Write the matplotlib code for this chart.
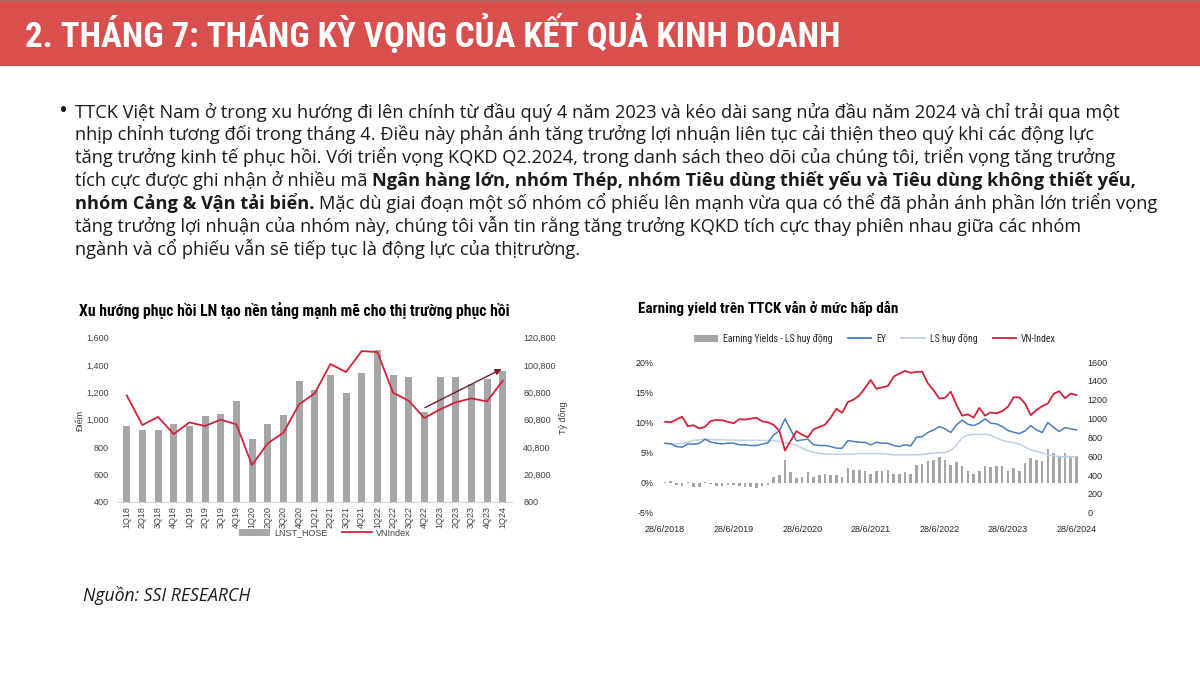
import matplotlib
matplotlib.use("Agg")
import matplotlib.pyplot as plt
from matplotlib import font_manager
from matplotlib.patches import Rectangle, Patch
from matplotlib.lines import Line2D
import numpy as np

W, H = 1200, 677

# ---- data: left chart (quarterly) ----
quarters = ["1Q18", "2Q18", "3Q18", "4Q18", "1Q19", "2Q19", "3Q19", "4Q19",
            "1Q20", "2Q20", "3Q20", "4Q20", "1Q21", "2Q21", "3Q21", "4Q21",
            "1Q22", "2Q22", "3Q22", "4Q22", "1Q23", "2Q23", "3Q23", "4Q23", "1Q24"]
lnst_hose = [56200, 53500, 53500, 57900, 56200, 63500, 65200, 74200,
             46700, 57900, 64000, 89100, 82500, 93500, 80300, 94900,
             111500, 93700, 92300, 66700, 91800, 91800, 86700, 90600, 96400]
vnindex_q = [1178, 961, 1020, 895, 980, 954, 1000, 966,
             668, 827, 905, 1112, 1193, 1407, 1349, 1502,
             1495, 1198, 1139, 1012, 1076, 1127, 1156, 1134, 1285]

# ---- data: right chart (monthly, 28/6/2018 .. 28/6/2024) ----
date_labels = ["28/6/2018", "28/6/2019", "28/6/2020", "28/6/2021",
               "28/6/2022", "28/6/2023", "28/6/2024"]
ey = [6.53, 6.42, 5.98, 5.87, 6.42, 6.37, 6.48, 7.19, 6.70, 6.53, 6.42, 6.53,
      6.53, 6.26, 6.26, 6.15, 6.15, 6.37, 6.59, 7.90, 8.57, 10.56, 8.74, 6.92,
      7.08, 7.19, 6.26, 6.15, 6.15, 5.98, 5.70, 5.70, 6.97, 6.81, 6.70, 6.65,
      6.26, 6.70, 6.53, 6.53, 6.15, 5.98, 6.26, 6.09, 7.52, 7.63, 8.30, 8.74,
      9.29, 8.91, 8.30, 9.57, 10.35, 9.68, 9.46, 9.85, 10.56, 9.85, 9.74, 9.29,
      8.63, 8.35, 8.13, 8.57, 9.46, 8.74, 8.30, 9.96, 9.13, 8.46, 9.13, 8.91, 8.74]
ls_huy_dong = [6.5, 6.45, 6.4, 6.5, 6.7, 7.0, 7.1, 7.2, 7.15, 7.1, 7.1, 7.05,
               7.05, 7.0, 7.0, 7.0, 7.0, 7.0, 6.95, 6.95, 6.8, 6.6, 6.4, 6.2,
               5.7, 5.3, 5.0, 4.85, 4.75, 4.7, 4.7, 4.7, 4.7, 4.75, 4.8, 4.8,
               4.8, 4.8, 4.8, 4.7, 4.6, 4.6, 4.6, 4.6, 4.6, 4.65, 4.8, 4.9,
               4.95, 5.0, 5.3, 6.2, 7.4, 7.9, 8.0, 8.0, 8.0, 7.85, 7.4, 7.0,
               6.75, 6.6, 6.4, 5.9, 5.4, 5.2, 4.9, 4.6, 4.45, 4.3, 4.3, 4.3, 4.3]
ey_minus_ls = [0.1, 0.2, -0.4, -0.5, 0.15, -0.8, -0.8, 0.15, -0.3, -0.5, -0.5, -0.45,
               -0.45, -0.6, -0.7, -0.8, -0.85, -0.6, -0.4, 1.0, 1.3, 3.8, 1.8, 0.7,
               1.0, 1.8, 1.0, 1.3, 1.4, 1.3, 1.2, 1.0, 2.4, 2.1, 2.1, 1.9,
               1.5, 2.0, 2.0, 2.1, 1.5, 1.4, 1.7, 1.4, 2.9, 3.0, 3.5, 3.8,
               4.3, 3.8, 2.9, 3.4, 2.8, 1.9, 1.5, 1.9, 2.7, 2.5, 2.7, 2.7,
               1.9, 2.4, 2.0, 3.2, 4.1, 3.8, 3.6, 5.5, 4.9, 4.3, 4.9, 4.3, 4.4]
vnindex_m = [966, 959, 990, 1019, 918, 929, 894, 912, 973, 985, 982, 964,
             950, 993, 989, 998, 1008, 970, 960, 933, 870, 660, 765, 866,
             828, 800, 885, 910, 935, 1010, 1105, 1060, 1175, 1200, 1245, 1325,
             1409, 1315, 1331, 1345, 1444, 1478, 1505, 1485, 1495, 1497, 1373, 1300,
             1212, 1220, 1285, 1144, 1030, 1044, 1009, 1113, 1030, 1065, 1055, 1078,
             1125, 1225, 1225, 1160, 1035, 1090, 1130, 1160, 1262, 1290, 1215, 1265, 1248]

# ---- text ----
header = "2. THÁNG 7: THÁNG KỲ VỌNG CỦA KẾT QUẢ KINH DOANH"
body_lines = [
    [("TTCK Việt Nam ở trong xu hướng đi lên chính từ đầu quý 4 năm 2023 và kéo dài sang nửa đầu năm 2024 và chỉ trải qua một", False)],
    [("nhịp chỉnh tương đối trong tháng 4. Điều này phản ánh tăng trưởng lợi nhuận liên tục cải thiện theo quý khi các động lực", False)],
    [("tăng trưởng kinh tế phục hồi. Với triển vọng KQKD Q2.2024, trong danh sách theo dõi của chúng tôi, triển vọng tăng trưởng", False)],
    [("tích cực được ghi nhận ở nhiều mã", False),
     ("Ngân hàng lớn, nhóm Thép, nhóm Tiêu dùng thiết yếu và Tiêu dùng không thiết yếu,", True)],
    [("nhóm Cảng & Vận tải biển.", True),
     ("Mặc dù giai đoạn một số nhóm cổ phiếu lên mạnh vừa qua có thể đã phản ánh phần lớn triển vọng", False)],
    [("tăng trưởng lợi nhuận của nhóm này, chúng tôi vẫn tin rằng tăng trưởng KQKD tích cực thay phiên nhau giữa các nhóm", False)],
    [("ngành và cổ phiếu vẫn sẽ tiếp tục là động lực của thịtrường.", False)],
]
title_left = "Xu hướng phục hồi LN tạo nền tảng mạnh mẽ cho thị trường phục hồi"
title_right = "Earning yield trên TTCK vẫn ở mức hấp dẫn"
source = "Nguồn: SSI RESEARCH"

# ---- fonts: pick what is installed ----
FONTS = font_manager.fontManager.ttflist


def weight_num(w):
    return w if isinstance(w, int) else font_manager.weight_dict.get(w, 400)


def has(name, stretch=None, bold=False):
    for f in FONTS:
        if f.name != name:
            continue
        if stretch is not None and f.stretch != stretch:
            continue
        if bold and weight_num(f.weight) < 600:
            continue
        return True
    return False


NARROW_STRETCH = "normal"
NARROW_NAME = "Roboto"
for name, st in [("Liberation Sans Narrow", None), ("Roboto Condensed", None),
                 ("DejaVu Sans", "condensed"), ("Roboto", "condensed")]:
    if has(name, st, bold=True):
        NARROW_NAME = name
        NARROW_STRETCH = st or "normal"
        break
NARROW = [NARROW_NAME, "DejaVu Sans"]

BODY_NAME = "DejaVu Sans"
for name in ["Noto Sans", "Open Sans", "Lato", "Roboto", "Liberation Sans"]:
    if has(name, bold=True):
        BODY_NAME = name
        break
BODY = [BODY_NAME, "DejaVu Sans"]
ARIAL = ["Liberation Sans", "DejaVu Sans"]

RED_HDR = "#d94f4e"
TXT = "#1a1a1a"
GREY_BAR = "#a6a6a6"
RED_LINE = "#d3213c"
BLUE = "#4a7ebb"
LIGHT_BLUE = "#bdd0ea"

fig = plt.figure(figsize=(W / 100, H / 100), dpi=100)
renderer = fig.canvas.get_renderer()


def fx(px):
    return px / W


def fy(py):
    return 1 - py / H


def fit_size(text, family, target_px, weight="normal", style="normal", stretch="normal", base=12):
    t = fig.text(0, 0, text, fontsize=base, family=family, weight=weight, style=style,
                 fontstretch=stretch)
    w = t.get_window_extent(renderer).width
    t.remove()
    return base * target_px / w


# header band
fig.add_artist(Rectangle((0, fy(66)), 1, 66 / H, transform=fig.transFigure, color=RED_HDR, lw=0))
fig.add_artist(Rectangle((0, fy(2)), 1, 2 / H, transform=fig.transFigure, color="#b36360", lw=0))
hs = fit_size(header, NARROW, 815, weight="bold", stretch=NARROW_STRETCH)
fig.text(fx(25), fy(47), header, fontsize=hs, family=NARROW, weight="bold",
         fontstretch=NARROW_STRETCH, color="white", va="baseline")

# body paragraph
bs = fit_size(body_lines[0][0][0], BODY, 1045)
t1 = fig.text(0, 0, "a a", fontsize=bs, family=BODY)
t2 = fig.text(0, 0, "aa", fontsize=bs, family=BODY)
space_px = t1.get_window_extent(renderer).width - t2.get_window_extent(renderer).width
t1.remove()
t2.remove()
fig.text(fx(59), fy(118), "•", fontsize=bs * 1.3, family=BODY, color=TXT, va="baseline")
for k, runs in enumerate(body_lines):
    x = 75
    y = 117.5 + 22.9 * k
    for s, bold in runs:
        t = fig.text(fx(x), fy(y), s, fontsize=bs, family=BODY, color=TXT, va="baseline",
                     weight="bold" if bold else "normal")
        x += t.get_window_extent(renderer).width + space_px

ss = fit_size(source, BODY, 167, style="italic")
fig.text(fx(83), fy(601), source, fontsize=ss, family=BODY, style="italic", color=TXT, va="baseline")

# ---- left chart ----
tl = fit_size(title_left, NARROW, 433, weight="bold", stretch=NARROW_STRETCH)
fig.text(fx(79), fy(316), title_left, fontsize=tl, family=NARROW, weight="bold",
         fontstretch=NARROW_STRETCH, color="black", va="baseline")

x_q = np.arange(len(quarters))
axb = fig.add_axes([fx(117.3), fy(501.7), 394.8 / W, 164 / H])
axl = axb.twinx()

axb.bar(x_q, lnst_hose, width=0.45, color=GREY_BAR, zorder=2)
axb.set_ylim(800, 120800)
axb.set_yticks(np.arange(800, 120801, 20000))
axb.set_yticklabels([f"{v:,.0f}" for v in np.arange(800, 120801, 20000)])
axb.set_xlim(-0.6, len(quarters) - 0.4)
axb.set_xticks(x_q)
axb.set_xticklabels(quarters, rotation=90)
for s in ["top", "left", "right"]:
    axb.spines[s].set_visible(False)
axb.spines["bottom"].set_color("#d9d9d9")
axb.spines["bottom"].set_linewidth(0.8)
axb.tick_params(axis="both", length=0, labelsize=6.5, colors="#404040")
axb.tick_params(axis="x", pad=3)

axl.plot(x_q, vnindex_q, color=RED_LINE, lw=1.3, zorder=3)
axl.set_ylim(400, 1600)
axl.set_yticks(np.arange(400, 1601, 200))
axl.set_yticklabels([f"{v:,.0f}" for v in np.arange(400, 1601, 200)])
for s in axl.spines.values():
    s.set_visible(False)
axl.annotate("", xy=(23.93, 1371), xytext=(19.04, 1088),
             arrowprops=dict(arrowstyle="-|>", color="#7a1a2a", lw=1.0, mutation_scale=9,
                             shrinkA=0, shrinkB=0))

# bars read on the right axis, VNIndex on the left one
axb.yaxis.tick_right()
axl.yaxis.tick_left()
axb.tick_params(axis="y", length=0, labelsize=6.5, colors="#404040", pad=8)
axl.tick_params(axis="y", length=0, labelsize=6.5, colors="#404040", pad=6)
for lab in axb.get_xticklabels() + axb.get_yticklabels() + axl.get_yticklabels():
    lab.set_family(ARIAL)

fig.text(fx(80.7), fy(420), "Điểm", rotation=90, fontsize=6.5, family=ARIAL, color="#404040",
         ha="center", va="center")
fig.text(fx(563), fy(418), "Tỷ đồng", rotation=90, fontsize=6.5, family=ARIAL, color="#404040",
         ha="center", va="center")

leg1 = fig.legend(handles=[Patch(facecolor=GREY_BAR, edgecolor="none", label="LNST_HOSE"),
                           Line2D([], [], color=RED_LINE, lw=1.3, label="VNIndex")],
                  loc="center", bbox_to_anchor=(fx(325), fy(533)), ncol=2, frameon=False,
                  prop={"family": ARIAL, "size": 6.5}, handlelength=3.4, handleheight=0.8,
                  columnspacing=1.6, handletextpad=0.4, borderpad=0.1)
for t in leg1.get_texts():
    t.set_color("#404040")

# ---- right chart ----
tr = fit_size(title_right, NARROW, 260, weight="bold", stretch=NARROW_STRETCH)
fig.text(fx(638), fy(313), title_right, fontsize=tr, family=NARROW, weight="bold",
         fontstretch=NARROW_STRETCH, color="black", va="baseline")

x_m = np.arange(len(ey))
ax2 = fig.add_axes([fx(659.3), fy(512.7), 422.9 / W, 150.7 / H])
ax3 = ax2.twinx()

ax2.bar(x_m, ey_minus_ls, width=0.45, color=GREY_BAR, zorder=2)
ax2.plot(x_m, ls_huy_dong, color=LIGHT_BLUE, lw=1.1, zorder=3)
ax2.plot(x_m, ey, color=BLUE, lw=1.1, zorder=4)
ax2.set_ylim(-5, 20)
ax2.set_yticks(np.arange(-5, 21, 5))
ax2.set_yticklabels([f"{v}%" for v in np.arange(-5, 21, 5)])
ax2.set_xlim(-1, len(ey))
ax2.set_xticks(np.arange(0, len(ey), 12))
ax2.set_xticklabels(date_labels)
for s in ax2.spines.values():
    s.set_visible(False)
ax2.tick_params(axis="both", length=0, labelsize=6.5, colors="#262626")
ax2.tick_params(axis="x", pad=9)
ax2.tick_params(axis="y", pad=4)

ax3.plot(x_m, vnindex_m, color=RED_LINE, lw=1.3, zorder=5)
ax3.set_ylim(0, 1600)
ax3.set_yticks(np.arange(0, 1601, 200))
for s in ax3.spines.values():
    s.set_visible(False)
ax3.tick_params(axis="y", length=0, labelsize=6.5, colors="#262626", pad=4)
for lab in ax2.get_xticklabels() + ax2.get_yticklabels() + ax3.get_yticklabels():
    lab.set_family(ARIAL)

leg2 = fig.legend(handles=[Patch(facecolor=GREY_BAR, edgecolor="none", label="Earning Yields - LS huy động"),
                           Line2D([], [], color=BLUE, lw=1.3, label="EY"),
                           Line2D([], [], color=LIGHT_BLUE, lw=1.3, label="LS huy động"),
                           Line2D([], [], color=RED_LINE, lw=1.3, label="VN-Index")],
                  loc="center", bbox_to_anchor=(fx(875), fy(339)), ncol=4, frameon=False,
                  prop={"family": NARROW, "size": 7, "stretch": NARROW_STRETCH},
                  handlelength=2.4, handleheight=0.8, columnspacing=1.6, handletextpad=0.5)
for t in leg2.get_texts():
    t.set_color("#262626")

fig.savefig("out.png", dpi=100)
